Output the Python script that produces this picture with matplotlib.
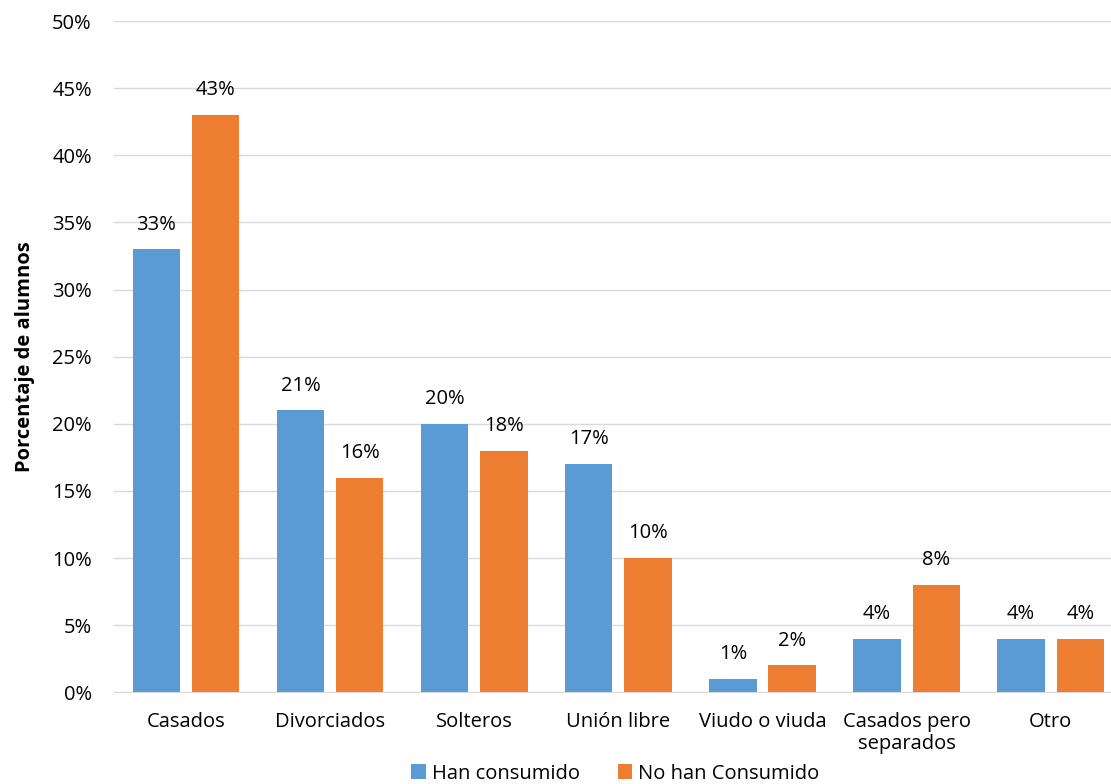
import numpy as np
import matplotlib
matplotlib.use("Agg")
from matplotlib import pyplot as plt
from matplotlib.ticker import FuncFormatter

# datos
categorias = ["Casados", "Divorciados", "Solteros", "Unión libre",
              "Viudo o viuda", "Casados pero\nseparados", "Otro"]
han_consumido = [33, 21, 20, 17, 1, 4, 4]
no_han_consumido = [43, 16, 18, 10, 2, 8, 4]
series = ["Han consumido", "No han Consumido"]

plt.rcParams["font.family"] = ["Open Sans", "DejaVu Sans"]

f = plt.figure(figsize=(11.11, 7.84), dpi=100)
ax = f.add_axes([0.1026, 0.117, 0.908, 0.856])

x = np.arange(len(categorias))
ancho = 0.328
sep = 0.083
b1 = ax.bar(x - (ancho + sep) / 2, han_consumido, ancho, color="#5B9BD5",
            label=series[0], zorder=3)
b2 = ax.bar(x + (ancho + sep) / 2, no_han_consumido, ancho, color="#ED7D31",
            label=series[1], zorder=3)

# etiquetas de valor
for barras in (b1, b2):
    for b in barras:
        v = b.get_height()
        ax.text(b.get_x() + b.get_width() / 2, v + 1.1, f"{v:.0f}%",
                ha="center", va="bottom", fontsize=14.5, color="#000000")

ax.set_xlim(-0.5, len(categorias) - 0.5)
ax.set_ylim(0, 50)
ax.set_yticks(np.arange(0, 51, 5))
ax.yaxis.set_major_formatter(FuncFormatter(lambda v, p: f"{v:.0f}%"))
ax.set_xticks(x)
ax.set_xticklabels(categorias, fontsize=14.5, linespacing=1.15)
ax.tick_params(axis="y", labelsize=14.5, length=0, pad=16)
ax.tick_params(axis="x", length=0, pad=14)
ax.grid(axis="y", color="#D9D9D9", linewidth=1, zorder=0)
for s in ["top", "right", "left"]:
    ax.spines[s].set_visible(False)
ax.spines["bottom"].set_color("#D9D9D9")

ax.set_ylabel("Porcentaje de alumnos", fontsize=14.5, fontweight="bold", labelpad=12)

ax.legend(loc="lower center", bbox_to_anchor=(0.497, -0.154), ncol=2,
          frameon=False, fontsize=14.5, handlelength=0.7, handleheight=0.7,
          columnspacing=1.9, handletextpad=0.3, borderpad=0.1)

f.savefig("out.png", dpi=100)
